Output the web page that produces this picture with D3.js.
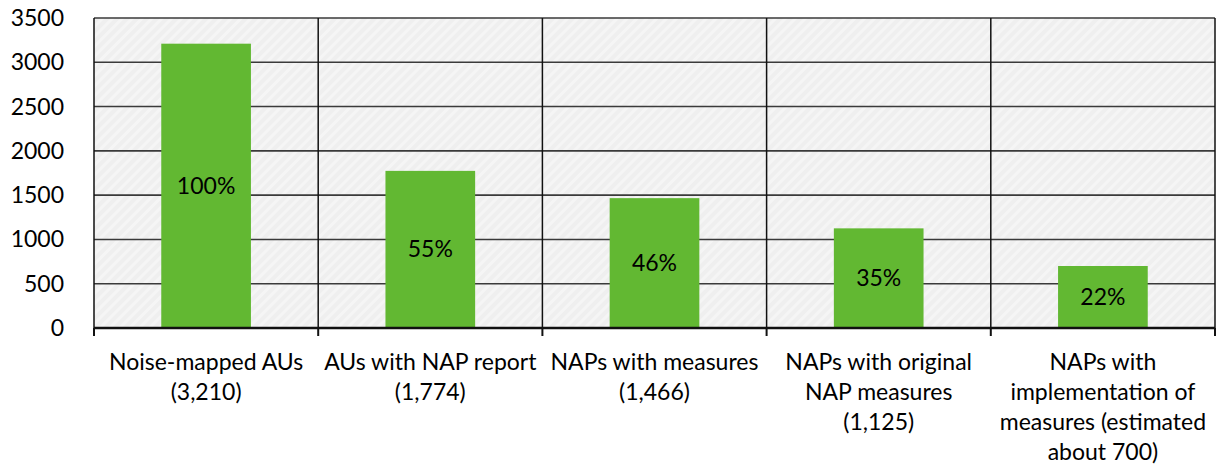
<!DOCTYPE html>
<html><head><meta charset="utf-8">
<script src="https://cdn.jsdelivr.net/npm/d3@7"></script>
<style>html,body{margin:0;padding:0;background:#fff;}svg{display:block;}</style>
</head><body>
<svg id="chart" width="1222" height="466"></svg>
<script>
const categories = [
  ["Noise-mapped AUs", "(3,210)"],
  ["AUs with NAP report", "(1,774)"],
  ["NAPs with measures", "(1,466)"],
  ["NAPs with original", "NAP measures", "(1,125)"],
  ["NAPs with", "implementation of", "measures (estimated", "about 700)"]
];
const values = [3210, 1774, 1466, 1125, 700];
const percentLabels = ["100%", "55%", "46%", "35%", "22%"];
const yTicks = [0, 500, 1000, 1500, 2000, 2500, 3000, 3500];

const FONT = "Lato, 'Open Sans', sans-serif";
const svg = d3.select("#chart");
const m = {left: 94, right: 1215, top: 18, bottom: 328};

const defs = svg.append("defs");
const pat = defs.append("pattern").attr("id","hatch").attr("patternUnits","userSpaceOnUse")
  .attr("width",7).attr("height",7).attr("patternTransform","rotate(45)");
pat.append("rect").attr("width",7).attr("height",7).attr("fill","#efefef");
pat.append("rect").attr("width",3).attr("height",7).attr("fill","#f5f5f5");

const x = d3.scaleBand().domain(d3.range(categories.length)).range([m.left, m.right]).paddingInner(0).paddingOuter(0);
const y = d3.scaleLinear().domain([0, 3500]).range([m.bottom, m.top]);
const barW = x.bandwidth() * 0.4;

svg.append("rect").attr("x", m.left).attr("y", m.top).attr("width", m.right - m.left).attr("height", m.bottom - m.top).attr("fill", "url(#hatch)");

// horizontal gridlines
svg.append("g").selectAll("line").data(yTicks.filter(d => d > 0)).join("line")
  .attr("x1", m.left).attr("x2", m.right).attr("y1", d => y(d)).attr("y2", d => y(d))
  .attr("stroke", "#3a3a3a").attr("stroke-width", 1.6);

// vertical category separators
const bounds = d3.range(categories.length + 1).map(i => i < categories.length ? x(i) : m.right);
svg.append("g").selectAll("line").data(bounds).join("line")
  .attr("x1", d => d).attr("x2", d => d).attr("y1", m.top).attr("y2", m.bottom)
  .attr("stroke", "#111").attr("stroke-width", 1.5);

// bars
svg.append("g").selectAll("rect").data(values).join("rect")
  .attr("x", (d, i) => x(i) + (x.bandwidth() - barW) / 2)
  .attr("y", d => y(d)).attr("width", barW).attr("height", d => y(0) - y(d))
  .attr("fill", "#62b832");

// percent labels
svg.append("g").selectAll("text").data(values).join("text")
  .attr("x", (d, i) => x(i) + x.bandwidth() / 2)
  .attr("y", d => (y(d) + y(0)) / 2).attr("dy", "0.35em")
  .attr("text-anchor", "middle").attr("font-family", FONT).attr("font-size", 23)
  .attr("fill", "#000").text((d, i) => percentLabels[i]);

// bottom axis
svg.append("line").attr("x1", m.left).attr("x2", m.right).attr("y1", m.bottom).attr("y2", m.bottom)
  .attr("stroke", "#111").attr("stroke-width", 2.5);
svg.append("g").selectAll("line").data(bounds).join("line")
  .attr("x1", d => d).attr("x2", d => d).attr("y1", m.bottom).attr("y2", m.bottom + 8)
  .attr("stroke", "#111").attr("stroke-width", 2);

// y tick labels
svg.append("g").selectAll("text").data(yTicks).join("text")
  .attr("x", 64).attr("y", d => y(d)).attr("dy", "0.35em").attr("text-anchor", "end")
  .attr("font-family", FONT).attr("font-size", 23).attr("fill", "#000").text(d => d);

// category labels
const cl = svg.append("g").selectAll("text").data(categories).join("text")
  .attr("x", (d, i) => x(i) + x.bandwidth() / 2).attr("y", 370)
  .attr("text-anchor", "middle").attr("font-family", FONT).attr("font-size", 23).attr("fill", "#000");
cl.selectAll("tspan").data(d => d).join("tspan")
  .attr("x", function() { return this.parentNode.getAttribute("x"); })
  .attr("dy", (d, i) => i === 0 ? 0 : 30).text(d => d);
</script>
</body></html>
